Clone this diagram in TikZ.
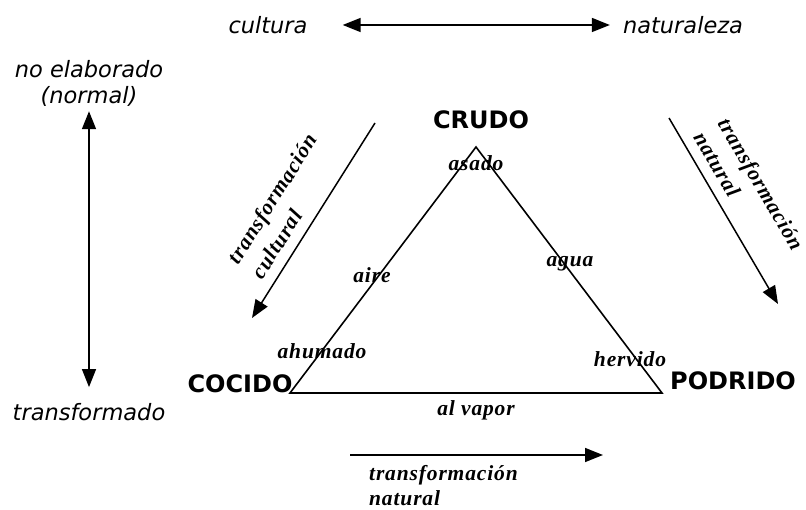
\documentclass[tikz,border=0pt]{standalone}
\usepackage{fontspec}
\setmainfont{Liberation Serif}
\newfontfamily\polefont{DejaVu Sans}
\newfontfamily\cookfont{Liberation Serif}[LetterSpace=4]
\usetikzlibrary{arrows.meta}

\begin{document}
\begin{tikzpicture}[x=1pt,y=1pt,
  pole/.style={inner sep=0pt, align=center, font=\polefont\itshape\fontsize{22.5}{26}\selectfont},
  vertex/.style={inner sep=0pt, font=\polefont\bfseries\fontsize{24}{26}\selectfont},
  cook/.style={inner sep=0pt, align=left, font=\cookfont\bfseries\itshape\fontsize{21.5}{25}\selectfont},
  slant/.style={cook, font=\cookfont\bfseries\itshape\fontsize{21.5}{28}\selectfont},
  arr/.style={line width=1.5pt, -{Triangle[length=18pt,width=14pt]}},
  dblarr/.style={line width=1.5pt, {Triangle[length=18pt,width=14pt]}-{Triangle[length=18pt,width=14pt]}}]
\useasboundingbox (0,0) rectangle (806,509);
\node[pole] (cultura) at (268,484) {cultura};
\node[pole] (naturaleza) at (683,484) {naturaleza};
\draw[dblarr, shorten <=35pt, shorten >=13pt] (cultura) -- (naturaleza);
\node[pole] (noelab) at (89,426) {no elaborado\\(normal)};
\node[pole] (transf) at (89,97) {transformado};
\draw[dblarr, shorten <=5pt, shorten >=16pt] (noelab) -- (transf);
\coordinate (A) at (476,362);
\coordinate (B) at (290,116);
\coordinate (C) at (662,116);
\draw[line width=1.6pt, line join=miter] (A) -- (B) -- (C) -- cycle;
\node[vertex] (crudo) at (481,389) {CRUDO};
\node[vertex] (cocido) at (240,125) {COCIDO};
\node[vertex] (podrido) at (733,128) {PODRIDO};
\node[cook] (asado) at (476,346) {asado};
\node[cook] (aire) at (372,234) {aire};
\node[cook] (agua) at (570,245) {agua};
\node[cook] (ahumado) at (322,158) {ahumado};
\node[cook] (hervido) at (630,150) {hervido};
\node[cook] (vapor) at (476,99) {al vapor};
\coordinate (cult1) at (375,386);
\coordinate (cult2) at (252,191);
\draw[arr] (cult1) -- (cult2);
\node[slant, rotate=57.8] (cultlbl) at (284,303) {transformación\\cultural};
\coordinate (nat1) at (669,391);
\coordinate (nat2) at (778,205);
\draw[arr] (nat1) -- (nat2);
\node[slant, rotate=-59.6] (natlbl) at (749,318) {transformación\\natural};
\coordinate (bot1) at (350,54);
\coordinate (bot2) at (603,54);
\draw[arr] (bot1) -- (bot2);
\node[cook, anchor=west] (botlbl) at (369,23) {transformación\\natural};
\end{tikzpicture}
\end{document}
